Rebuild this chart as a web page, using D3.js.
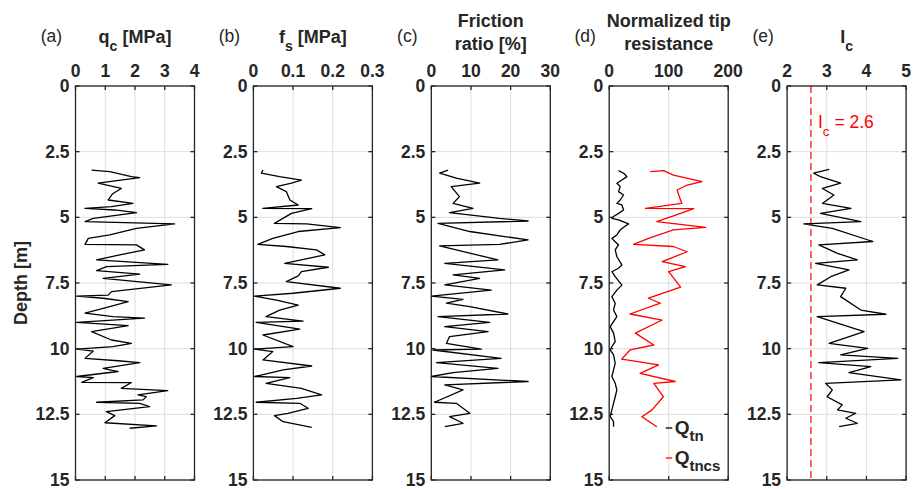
<!DOCTYPE html>
<html>
<head>
<meta charset="utf-8">
<script src="https://cdn.jsdelivr.net/npm/d3@7"></script>
<style>
  body { margin: 0; background: #fff; }
  text { font-family: 'Liberation Sans', Arial, sans-serif; }
</style>
</head>
<body>
<svg id="chart" width="913" height="489"></svg>
<script>
// depth [m], value pairs read from the CPT profiles
const qc = [[3.2,0.54],[3.26,1.15],[3.45,1.88],[3.49,2.16],[3.7,0.76],[3.9,1.54],[4.1,1.25],[4.34,1.1],[4.47,1.93],[4.59,1.21],[4.66,0.32],[4.72,1.32],[4.82,2.05],[5.04,0.6],[5.16,0.32],[5.25,3.33],[5.42,2.05],[5.67,1.15],[5.8,0.43],[6.03,0.32],[6.05,2.05],[6.24,2.32],[6.43,1.49],[6.62,0.71],[6.79,3.1],[6.88,1.04],[7.03,0.71],[7.16,2.16],[7.32,0.93],[7.57,3.22],[7.83,1.21],[7.96,1.1],[8.0,0.04],[8.08,0.93],[8.21,1.77],[8.4,1.15],[8.65,0.32],[8.78,1.26],[8.84,2.32],[9.0,0.04],[9.12,1.77],[9.35,0.54],[9.67,1.21],[9.8,1.88],[9.92,1.26],[10.02,0.04],[10.09,0.6],[10.37,0.32],[10.46,1.43],[10.53,2.16],[10.75,0.93],[10.87,1.43],[11.06,0.04],[11.1,0.6],[11.28,0.21],[11.29,1.88],[11.51,1.54],[11.6,3.1],[11.76,2.1],[11.83,2.38],[11.95,2.27],[12.04,0.71],[12.08,2.16],[12.21,2.49],[12.4,1.04],[12.55,1.32],[12.82,0.99],[12.94,2.72],[13.03,1.82]];

const fs = [[3.2,0.024],[3.32,0.02],[3.45,0.066],[3.58,0.121],[3.7,0.096],[3.83,0.058],[4.02,0.083],[4.34,0.092],[4.53,0.113],[4.66,0.024],[4.67,0.147],[4.85,0.096],[5.23,0.053],[5.25,0.134],[5.39,0.219],[5.54,0.113],[5.8,0.049],[6.03,0.011],[6.11,0.083],[6.24,0.159],[6.43,0.18],[6.75,0.079],[6.9,0.189],[7.07,0.121],[7.23,0.113],[7.45,0.083],[7.7,0.219],[7.89,0.1],[8.0,0.003],[8.15,0.058],[8.34,0.113],[8.53,0.066],[8.78,0.032],[8.95,0.125],[9.0,0.007],[9.26,0.117],[9.48,0.024],[9.92,0.1],[10.02,0.003],[10.11,0.049],[10.43,0.024],[10.66,0.147],[10.81,0.075],[11.06,0.003],[11.1,0.092],[11.32,0.032],[11.51,0.121],[11.76,0.172],[11.89,0.109],[12.04,0.007],[12.08,0.117],[12.27,0.138],[12.46,0.087],[12.55,0.053],[12.78,0.075],[13.0,0.147]];

const rf = [[3.2,4.2],[3.32,2.1],[3.51,6.3],[3.7,12.2],[3.83,5.0],[4.21,7.1],[4.47,5.5],[4.66,10.5],[4.82,4.6],[5.04,17.2],[5.14,24.4],[5.23,1.7],[5.54,9.7],[5.86,24.4],[6.03,17.2],[6.09,2.1],[6.62,16.8],[6.75,3.4],[7.0,18.5],[7.19,5.5],[7.32,12.2],[7.57,3.4],[7.77,15.1],[8.0,0],[8.12,8.0],[8.27,3.8],[8.4,9.7],[8.68,19.3],[8.78,1.7],[9.0,14.7],[9.16,3.4],[9.35,14.3],[9.54,4.6],[9.8,3.8],[10.02,12.6],[10.05,0.4],[10.37,17.6],[10.53,1.3],[10.75,16.8],[10.91,5.5],[11.06,0],[11.25,24.4],[11.38,3.4],[11.57,8.0],[12.04,0.8],[12.08,6.3],[12.46,9.7],[12.59,4.6],[12.84,8.0],[12.97,3.4]];

const qtn = [[3.22,15.7],[3.32,24.2],[3.45,29.8],[3.58,21.3],[3.7,12.9],[3.83,18.5],[4.02,15.7],[4.15,24.2],[4.34,18.5],[4.47,12.9],[4.53,21.3],[4.72,24.2],[4.85,15.7],[4.97,7.3],[5.04,4.5],[5.1,15.7],[5.25,32.6],[5.38,24.2],[5.48,18.5],[5.67,12.9],[5.8,4.5],[5.93,10.1],[6.05,15.7],[6.24,10.1],[6.5,12.9],[6.81,21.3],[6.94,15.7],[7.07,4.5],[7.26,10.1],[7.58,21.3],[7.77,12.9],[8.02,4.5],[8.27,10.1],[8.53,7.3],[8.78,12.9],[8.97,7.3],[9.16,1.7],[9.41,7.3],[9.73,10.1],[9.92,4.5],[10.05,1.7],[10.24,7.3],[10.56,10.1],[10.81,7.3],[11.06,4.5],[11.32,10.1],[11.57,12.9],[11.83,10.1],[12.08,7.3],[12.33,4.5],[12.59,1.7],[12.78,7.3],[12.97,7.3]];

const qtncs = [[3.26,69],[3.22,91.5],[3.39,108],[3.64,156],[3.77,131],[3.96,114],[4.47,122],[4.66,61],[4.67,142],[4.85,120],[5.16,80],[5.38,162],[5.48,108],[5.8,66],[6.03,41],[6.11,108],[6.31,131],[6.69,89],[6.88,128],[7.07,100],[7.66,120],[8.08,66],[8.27,86],[8.68,35],[8.91,89],[9.41,44],[9.86,75],[10.05,35],[10.4,21],[10.62,83],[10.94,52],[11.25,111],[11.32,75],[11.83,91],[12.33,72],[12.59,55],[12.97,80]];

const ic = [[3.17,3.06],[3.32,2.67],[3.45,2.84],[3.7,3.35],[3.9,2.89],[4.15,3.18],[4.47,2.89],[4.66,3.61],[4.85,2.84],[5.16,3.86],[5.25,2.42],[5.42,3.14],[5.92,4.16],[6.05,2.8],[6.37,3.27],[6.62,3.77],[6.75,2.72],[7.0,3.56],[7.26,3.1],[7.57,2.76],[7.7,3.48],[8.02,3.35],[8.53,3.86],[8.69,4.49],[8.78,2.76],[9.35,3.94],[9.8,3.06],[9.99,4.03],[10.24,3.35],[10.37,4.79],[10.53,2.8],[10.68,4.11],[10.91,3.56],[11.19,4.87],[11.32,2.97],[11.57,3.14],[11.83,3.01],[12.14,3.39],[12.33,3.27],[12.46,3.73],[12.65,3.48],[12.84,3.77],[12.97,3.31]];

const icLimit = 2.6;

const depthTicks = [0, 2.5, 5, 7.5, 10, 12.5, 15];
const depthLabels = ['0', '2.5', '5', '7.5', '10', '12.5', '15'];

const panels = [
  { tag: '(a)', title: [['q', 'c', ' [MPa]']], domain: [0, 4], ticks: [0, 1, 2, 3, 4], labels: ['0', '1', '2', '3', '4'], series: [{ data: qc, color: '#000' }] },
  { tag: '(b)', title: [['f', 's', ' [MPa]']], domain: [0, 0.3], ticks: [0, 0.1, 0.2, 0.3], labels: ['0', '0.1', '0.2', '0.3'], series: [{ data: fs, color: '#000' }] },
  { tag: '(c)', title: [['Friction']], title2: 'ratio [%]', domain: [0, 30], ticks: [0, 10, 20, 30], labels: ['0', '10', '20', '30'], series: [{ data: rf, color: '#000' }] },
  { tag: '(d)', title: [['Normalized tip']], title2: 'resistance', domain: [0, 200], ticks: [0, 100, 200], labels: ['0', '100', '200'], series: [{ data: qtn, color: '#000', name: 'tn' }, { data: qtncs, color: '#ff0000', name: 'tncs' }] },
  { tag: '(e)', title: [['I', 'c', '']], domain: [2, 5], ticks: [2, 3, 4, 5], labels: ['2', '3', '4', '5'], series: [{ data: ic, color: '#000' }] }
];

const svg = d3.select('#chart');
const yTop = 86, yBottom = 480, pw = 119, step = 177.9, left0 = 75.5;
const axisColor = '#262626';

const y = d3.scaleLinear().domain([0, 15]).range([yTop, yBottom]);

panels.forEach((p, i) => {
  const x0 = left0 + i * step;
  const x = d3.scaleLinear().domain(p.domain).range([x0, x0 + pw]);
  const g = svg.append('g');
  const cx = x0 + pw / 2;

  // grid
  g.selectAll('.vg').data(p.ticks).enter().append('line')
    .attr('x1', d => x(d)).attr('x2', d => x(d))
    .attr('y1', yTop).attr('y2', yBottom)
    .attr('stroke', '#dedede').attr('stroke-width', 1);
  g.selectAll('.hg').data(depthTicks).enter().append('line')
    .attr('x1', x0).attr('x2', x0 + pw)
    .attr('y1', d => y(d)).attr('y2', d => y(d))
    .attr('stroke', '#dedede').attr('stroke-width', 1);

  // Ic threshold
  if (p.tag === '(e)') {
    g.append('line')
      .attr('x1', x(icLimit)).attr('x2', x(icLimit))
      .attr('y1', yTop).attr('y2', yBottom)
      .attr('stroke', '#ff3333').attr('stroke-width', 1.5)
      .attr('stroke-dasharray', '7,4');
    const t = g.append('text').attr('x', x(icLimit) + 7).attr('y', 128)
      .attr('fill', '#ff0000').attr('font-size', '17.5px');
    t.append('tspan').text('I');
    t.append('tspan').attr('dy', 8).attr('font-size', '13.5px').text('c');
    t.append('tspan').attr('dy', -8).text(' = 2.6');
  }

  // profiles
  const line = d3.line().x(d => x(d[1])).y(d => y(d[0]));
  p.series.forEach(s => {
    g.append('path').attr('d', line(s.data))
      .attr('fill', 'none').attr('stroke', s.color).attr('stroke-width', 1.3)
      .attr('stroke-linejoin', 'round');
  });

  // box
  g.append('rect').attr('x', x0).attr('y', yTop).attr('width', pw).attr('height', yBottom - yTop)
    .attr('fill', 'none').attr('stroke', axisColor).attr('stroke-width', 1.3);

  // inward ticks
  p.ticks.forEach(t => {
    g.append('line').attr('x1', x(t)).attr('x2', x(t)).attr('y1', yTop).attr('y2', yTop + 4).attr('stroke', axisColor).attr('stroke-width', 1.3);
    g.append('line').attr('x1', x(t)).attr('x2', x(t)).attr('y1', yBottom).attr('y2', yBottom - 4).attr('stroke', axisColor).attr('stroke-width', 1.3);
  });
  depthTicks.forEach(t => {
    g.append('line').attr('x1', x0).attr('x2', x0 + 4).attr('y1', y(t)).attr('y2', y(t)).attr('stroke', axisColor).attr('stroke-width', 1.3);
    g.append('line').attr('x1', x0 + pw).attr('x2', x0 + pw - 4).attr('y1', y(t)).attr('y2', y(t)).attr('stroke', axisColor).attr('stroke-width', 1.3);
  });

  // tick labels
  g.selectAll('.xl').data(p.ticks).enter().append('text')
    .attr('x', d => x(d)).attr('y', 77)
    .attr('text-anchor', 'middle').attr('font-size', '17.5px').attr('font-weight', 'bold')
    .attr('fill', axisColor)
    .text((d, k) => p.labels[k]);
  g.selectAll('.yl').data(depthTicks).enter().append('text')
    .attr('x', x0 - 6).attr('y', d => y(d) + 6)
    .attr('text-anchor', 'end').attr('font-size', '17.5px').attr('font-weight', 'bold')
    .attr('fill', axisColor)
    .text((d, k) => depthLabels[k]);

  // panel tag
  svg.append('text').attr('x', x0 - 24).attr('y', 42)
    .attr('text-anchor', 'middle').attr('font-size', '17.5px').attr('fill', axisColor)
    .text(p.tag);

  // title
  const tt = p.title[0];
  const title = svg.append('text').attr('x', cx).attr('y', p.title2 ? 27 : 43)
    .attr('text-anchor', 'middle').attr('font-size', '18px').attr('font-weight', 'bold')
    .attr('fill', axisColor);
  title.append('tspan').text(tt[0]);
  if (tt.length > 1) {
    title.append('tspan').attr('dy', 8).attr('font-size', '14px').text(tt[1]);
    title.append('tspan').attr('dy', -8).text(tt[2]);
  }
  if (p.title2) {
    svg.append('text').attr('x', cx).attr('y', 50)
      .attr('text-anchor', 'middle').attr('font-size', '18px').attr('font-weight', 'bold')
      .attr('fill', axisColor).text(p.title2);
  }

  // legend in panel (d)
  if (p.tag === '(d)') {
    p.series.forEach((s, k) => {
      const ly = 428 + k * 30;
      g.append('line').attr('x1', x(95)).attr('x2', x(106)).attr('y1', ly).attr('y2', ly)
        .attr('stroke', s.color).attr('stroke-width', 1.3);
      const lt = g.append('text').attr('x', x(110)).attr('y', ly + 6)
        .attr('font-size', '19px').attr('font-weight', 'bold').attr('fill', axisColor);
      lt.append('tspan').text('Q');
      lt.append('tspan').attr('dy', 7).attr('font-size', '15px').text(s.name);
    });
  }
});

// depth axis label
svg.append('text')
  .attr('transform', `translate(27, ${(yTop + yBottom) / 2}) rotate(-90)`)
  .attr('text-anchor', 'middle').attr('font-size', '18px').attr('font-weight', 'bold')
  .attr('fill', axisColor).text('Depth [m]');
</script>
</body>
</html>
